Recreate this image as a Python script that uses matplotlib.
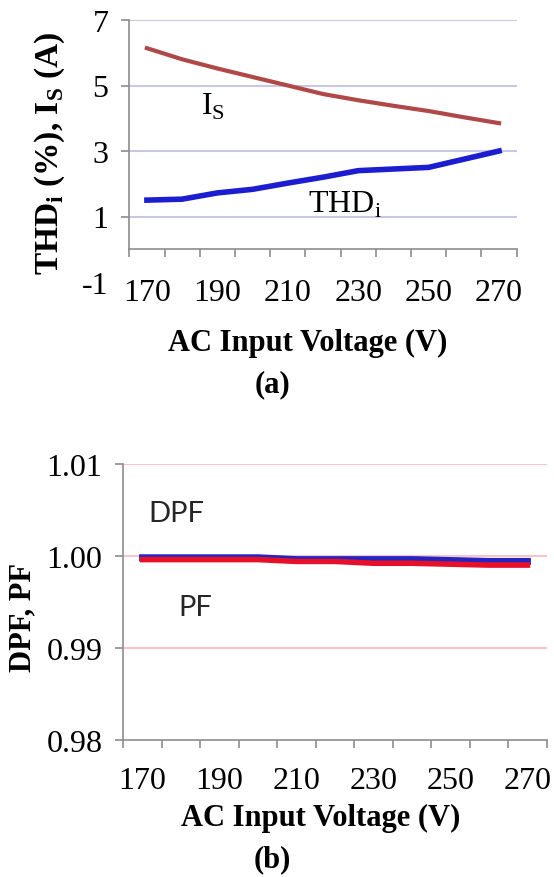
import numpy as np
import matplotlib.pyplot as plt

plt.rcParams['font.family'] = 'Liberation Serif'
plt.rcParams['mathtext.fontset'] = 'custom'
plt.rcParams['mathtext.rm'] = 'Liberation Serif'

# AC input voltage categories (V)
voltage = [170, 180, 190, 200, 210, 220, 230, 240, 250, 260, 270]
xlabels = [170, 190, 210, 230, 250, 270]

# (a) supply current and current THD
i_s = [6.14, 5.80, 5.52, 5.26, 5.00, 4.74, 4.55, 4.38, 4.22, 4.03, 3.85]
thd_i = [1.50, 1.53, 1.72, 1.83, 2.02, 2.20, 2.40, 2.45, 2.50, 2.75, 3.00]
yticks_a = [-1, 1, 3, 5, 7]

# (b) displacement and power factor
dpf = [0.9998, 0.9998, 0.9998, 0.9998, 0.9996, 0.9996, 0.9996, 0.9996, 0.9995, 0.9994, 0.9994]
pf = [0.9996, 0.9996, 0.9996, 0.9996, 0.9994, 0.9994, 0.9992, 0.9992, 0.9991, 0.9990, 0.9990]
yticks_b = [0.98, 0.99, 1.00, 1.01]

W, H = 554, 878
fig = plt.figure(figsize=(W / 100, H / 100), dpi=100)

def px(x0, y0, x1, y1):
    return [x0 / W, 1 - y1 / H, (x1 - x0) / W, (y1 - y0) / H]

edges = np.arange(165, 276, 10)
spine_col = '#8c8c8c'

def setup_xaxis(ax, pad):
    ax.set_xlim(165, 275)
    ax.set_xticks(edges)
    ax.set_xticklabels([])
    ax.set_xticks(xlabels, minor=True)
    ax.set_xticklabels([str(v) for v in xlabels], minor=True, fontsize=23)
    ax.tick_params(axis='x', which='major', length=6, width=1.2, color=spine_col)
    ax.tick_params(axis='x', which='minor', length=0, pad=pad)
    for s in ['top', 'right']:
        ax.spines[s].set_visible(False)
    for s in ['left', 'bottom']:
        ax.spines[s].set_color(spine_col)
        ax.spines[s].set_linewidth(1.2)

# ---- (a) ----
ax1 = fig.add_axes(px(129.3, 21, 516.7, 283))
ax1.plot(voltage, i_s, color='#b04848', lw=3)
ax1.plot(voltage, thd_i, color='#1c1cd0', lw=4)
ax1.set_ylim(-1, 7)
ax1.set_yticks(yticks_a)
ax1.set_yticklabels([str(v) for v in yticks_a], fontsize=23)
ax1.tick_params(axis='y', length=6, width=1.2, color=spine_col, pad=9)
ax1.grid(axis='y', color='#c8c8e6', lw=1.5)
ax1.yaxis.get_major_ticks()[0].gridline.set_visible(False)
ax1.yaxis.get_major_ticks()[0].tick1line.set_visible(False)
ax1.set_axisbelow(True)
ax1.spines['bottom'].set_position(('data', 0))
ax1.spines['left'].set_bounds(0, 7)
setup_xaxis(ax1, pad=21)
ax1.text(213 / W, 1 - 107 / H, 'I$_\\mathregular{S}$', transform=fig.transFigure,
         fontsize=23, ha='center', va='center')
ax1.text(345 / W, 1 - 205 / H, 'THD$_\\mathregular{i}$', transform=fig.transFigure,
         fontsize=23, ha='center', va='center')

fig.text(50 / W, 1 - 153 / H, 'THD$_\\mathregular{i}$ (%), I$_\\mathregular{S}$ (A)',
         rotation=90, ha='center', va='center', fontsize=24, fontweight='bold')
fig.text(308 / W, 1 - 343 / H, 'AC Input Voltage (V)', ha='center', va='center',
         fontsize=22, fontweight='bold')
fig.text(272 / W, 1 - 385 / H, '(a)', ha='center', va='center', fontsize=22, fontweight='bold')

# ---- (b) ----
ax2 = fig.add_axes(px(123.3, 465, 546.7, 740.7))
ax2.plot(voltage, dpf, color='#2424c0', lw=5)
ax2.plot(voltage, pf, color='#e81028', lw=4)
ax2.set_ylim(0.98, 1.01)
ax2.set_yticks(yticks_b)
ax2.set_yticklabels(['%.2f' % v for v in yticks_b], fontsize=23)
ax2.tick_params(axis='y', length=6, width=1.2, color=spine_col, pad=9)
ax2.grid(axis='y', color='#f8c4cc', lw=1.5)
ax2.yaxis.get_major_ticks()[0].gridline.set_visible(False)
ax2.set_axisbelow(True)
setup_xaxis(ax2, pad=19)
ax2.text(176 / W, 1 - 514 / H, 'DPF', transform=fig.transFigure, family='Lato',
         fontsize=21, ha='center', va='center', color='#262626')
ax2.text(195 / W, 1 - 608 / H, 'PF', transform=fig.transFigure, family='Lato',
         fontsize=21, ha='center', va='center', color='#262626')

fig.text(23 / W, 1 - 618 / H, 'DPF, PF', rotation=90, ha='center', va='center',
         fontsize=22, fontweight='bold')
fig.text(321 / W, 1 - 818 / H, 'AC Input Voltage (V)', ha='center', va='center',
         fontsize=22, fontweight='bold')
fig.text(272 / W, 1 - 860 / H, '(b)', ha='center', va='center', fontsize=22, fontweight='bold')

fig.savefig('out.png', dpi=100)
